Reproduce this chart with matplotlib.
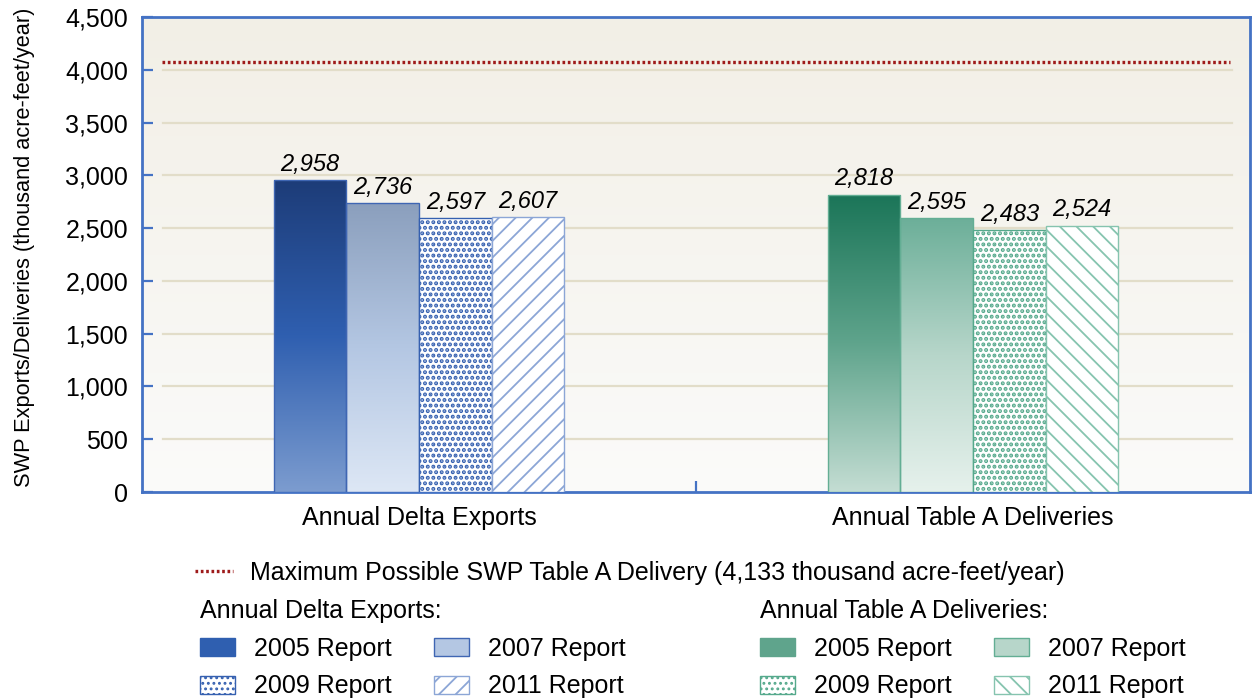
import numpy as np
import matplotlib.pyplot as plt
from matplotlib.colors import LinearSegmentedColormap
from matplotlib.patches import Patch
from matplotlib.lines import Line2D

plt.rcParams['font.family'] = ['Liberation Sans', 'DejaVu Sans']
plt.rcParams['hatch.linewidth'] = 1.3

categories = ['Annual Delta Exports', 'Annual Table A Deliveries']
reports = ['2005 Report', '2007 Report', '2009 Report', '2011 Report']
delta_exports = [2958, 2736, 2597, 2607]
table_a = [2818, 2595, 2483, 2524]
max_delivery = 4075
max_label = 'Maximum Possible SWP Table A Delivery (4,133 thousand acre-feet/year)'
yticks = [0, 500, 1000, 1500, 2000, 2500, 3000, 3500, 4000, 4500]

# gradient colours (top, middle, bottom) for the solid bars
blue_grad = [('#1d3c78', '#2f5fb0', '#7c9ccf'), ('#8b9fbd', '#b4c7e3', '#dde7f5')]
green_grad = [('#1b7558', '#5fa48c', '#c4ddd3'), ('#6caf99', '#b7d6ca', '#e6f1ec')]
# edge colours: solid, dotted, slashed
blue_edges = ['#3f66b3', '#3560b0', '#8ca6d6']
green_edges = ['#63ae94', '#55a98c', '#86c4af']

fig = plt.figure(figsize=(12.56, 7), dpi=100)
ax = fig.add_axes([142 / 1256, 208 / 700, 1108 / 1256, 475 / 700])

ax.set_xlim(-0.5, 1.5)
ax.set_ylim(0, 4500)

# background gradient
bg = LinearSegmentedColormap.from_list('bg', ['#fbfbfa', '#f2efe6'])
ax.imshow(np.linspace(0, 1, 256).reshape(-1, 1), cmap=bg, aspect='auto',
          extent=[0, 1, 0, 1], transform=ax.transAxes, origin='lower', zorder=0)

for y in yticks[1:-1]:
    ax.axhline(y, xmin=0.019, xmax=0.984, color='#e2ddc9', lw=1.6, zorder=1)

ax.axhline(max_delivery, xmin=0.018, xmax=0.982, color='#9e1b1b', lw=2.4,
           linestyle=(0, (0.8, 0.8)), zorder=2)

width = 0.131
offsets = (np.arange(4) - 1.5) * width


def gradient_bar(bar, colors, edge):
    x0, y0 = bar.get_xy()
    w, h = bar.get_width(), bar.get_height()
    cmap = LinearSegmentedColormap.from_list('g', list(colors)[::-1])
    im = ax.imshow(np.linspace(0, 1, 256).reshape(-1, 1), cmap=cmap, aspect='auto',
                   extent=[x0, x0 + w, y0, y0 + h], origin='lower', zorder=3)
    im.set_clip_path(bar)
    bar.set_facecolor('none')
    bar.set_edgecolor(edge)
    bar.set_zorder(4)


groups = [(delta_exports, blue_grad, blue_edges, '//'),
          (table_a, green_grad, green_edges, '\\\\')]
for ci, (vals, grads, edges, slant) in enumerate(groups):
    for i, v in enumerate(vals):
        xpos = ci + offsets[i]
        if i < 2:
            b = ax.bar(xpos, v, width, lw=1.0)[0]
            gradient_bar(b, grads[i], edges[0])
        elif i == 2:
            b = ax.bar(xpos, v, width, facecolor='white', edgecolor=edges[1],
                       hatch='...', lw=1.0, zorder=4)[0]
            if hasattr(b, 'set_hatch_linewidth'):
                b.set_hatch_linewidth(2.0)
        else:
            ax.bar(xpos, v, width, facecolor='white', edgecolor=edges[2],
                   hatch=slant, lw=1.0, zorder=4)
        ax.text(xpos, v + 40, f'{v:,}', ha='center', va='bottom',
                fontsize=17, style='italic', zorder=5)

ax.set_xticks([0.5])
ax.set_xticklabels([''])
ax.tick_params(axis='x', direction='in', length=8, width=1.6, color='#4472c4')
for ci, cat in enumerate(categories):
    ax.text(ci, -130, cat, ha='center', va='top', fontsize=18)

ax.set_yticks(yticks)
ax.set_yticklabels([f'{t:,}' for t in yticks])
ax.tick_params(axis='y', direction='in', length=8, width=1.6, color='#4472c4',
               labelsize=18, pad=10)
ax.set_ylabel('SWP Exports/Deliveries (thousand acre-feet/year)', fontsize=15.7)
ax.yaxis.set_label_coords(-0.097, 0.515)
for s in ax.spines.values():
    s.set_color('#4472c4')
    s.set_linewidth(2)

# legends
line_h = Line2D([], [], color='#9e1b1b', lw=2.4, linestyle=(0, (0.8, 0.8)))
fig.legend([line_h], [max_label], loc='center left', bbox_to_anchor=(195 / 1256, 1 - 573 / 700),
           frameon=False, fontsize=18, handlelength=1.5, handletextpad=0.7,
           borderpad=0, borderaxespad=0)


def group_handles(grads, edges, slant):
    return [Patch(facecolor=grads[0][1], edgecolor=grads[0][1]),
            Patch(facecolor=grads[1][1], edgecolor=edges[0]),
            Patch(facecolor='white', edgecolor=edges[1], hatch='...'),
            Patch(facecolor='white', edgecolor=edges[2], hatch=slant)]


order = [0, 2, 1, 3]
for (vals, grads, edges, slant), title, xa in zip(groups, ['Annual Delta Exports:', 'Annual Table A Deliveries:'],
                                                 [200, 760]):
    hs = group_handles(grads, edges, slant)
    leg = fig.legend([hs[k] for k in order], [reports[k] for k in order], ncol=2,
                     loc='upper left', bbox_to_anchor=(xa / 1256, 1 - 599 / 700),
                     frameon=False, fontsize=18, title=title, title_fontsize=18,
                     handlelength=1.4, handleheight=0.7, handletextpad=0.75,
                     columnspacing=1.7, labelspacing=0.55, borderpad=0, borderaxespad=0)
    leg._legend_box.align = 'left'

fig.savefig('out.png', dpi=100)
